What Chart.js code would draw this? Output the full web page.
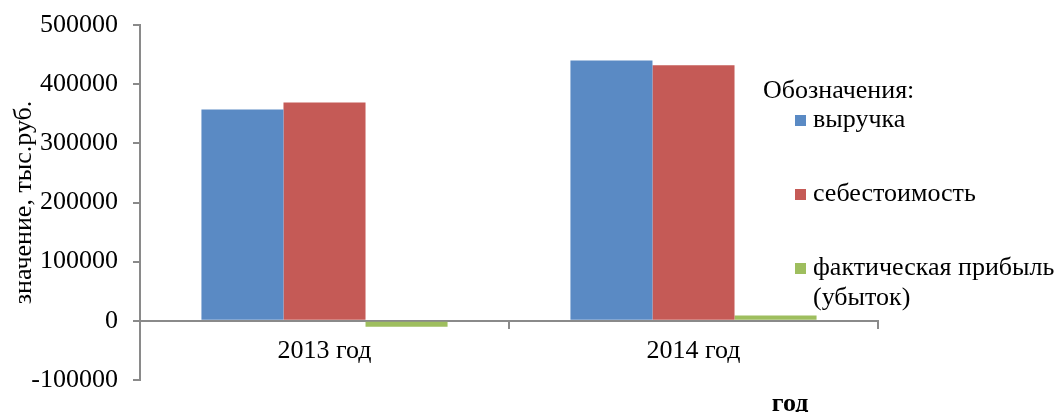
<!DOCTYPE html>
<html lang="ru">
<head>
<meta charset="utf-8">
<script src="https://cdn.jsdelivr.net/npm/chart.js@4/dist/chart.umd.min.js"></script>
<style>
  html, body { margin: 0; padding: 0; background: #ffffff; }
  #wrap { width: 1062px; height: 412px; }
</style>
</head>
<body>
<div id="wrap"><canvas id="chart" width="1062" height="412"></canvas></div>
<script>
// Годы
const categories = ['2013 год', '2014 год'];
// Показатели, тыс. руб.
const revenue = [357000, 440000];
const costs = [369000, 432000];
const profit = [-10000, 9000];
const seriesNames = ['выручка', 'себестоимость', 'фактическая прибыль\n(убыток)'];
const yTicks = [-100000, 0, 100000, 200000, 300000, 400000, 500000];

const FONT = 'Liberation Serif, Times New Roman, serif';
const AXIS = '#8a8a8a';
const SIZE = 26;

// Легенда и подпись оси X рисуются отдельно
const notes = {
  id: 'notes',
  afterDraw(chart) {
    const ctx = chart.ctx;
    ctx.save();
    ctx.fillStyle = '#000';
    ctx.font = SIZE + 'px ' + FONT;
    ctx.textBaseline = 'middle';
    ctx.textAlign = 'left';
    ctx.fillText('Обозначения:', 763, 91);
    const rows = [120, 194, 268];
    chart.data.datasets.forEach((ds, i) => {
      const y = rows[i];
      ctx.fillStyle = ds.backgroundColor;
      ctx.fillRect(795, y - 5, 11, 11);
      ctx.fillStyle = '#000';
      ds.label.split('\n').forEach((line, j) => {
        ctx.fillText(line, 813, y + j * 30);
      });
    });
    ctx.font = 'bold ' + SIZE + 'px ' + FONT;
    ctx.textAlign = 'center';
    ctx.fillText('год', 790, 404);
    ctx.restore();
  }
};

new Chart(document.getElementById('chart'), {
  type: 'bar',
  data: {
    labels: categories,
    datasets: [
      { label: seriesNames[0], data: revenue, backgroundColor: '#5a8ac4' },
      { label: seriesNames[1], data: costs, backgroundColor: '#c55a56' },
      { label: seriesNames[2], data: profit, backgroundColor: '#9ebe5e' }
    ]
  },
  options: {
    responsive: false,
    devicePixelRatio: 1,
    animation: false,
    layout: { padding: { left: 0, right: 184, top: 25, bottom: 32 } },
    datasets: { bar: { categoryPercentage: 0.667, barPercentage: 1.0 } },
    plugins: { legend: { display: false }, tooltip: { enabled: false } },
    scales: {
      x: {
        position: { y: 0 },
        offset: true,
        grid: { offset: true, drawOnChartArea: false, drawTicks: true, tickLength: 7, color: AXIS, lineWidth: 2 },
        border: { color: AXIS, width: 2 },
        ticks: { color: '#000', font: { family: FONT, size: SIZE }, padding: 8, maxRotation: 0 }
      },
      y: {
        min: -100000,
        max: 500000,
        afterFit(scale) {
          scale.width = 140;
          scale.paddingTop = 0;
          scale.paddingBottom = 0;
        },
        afterBuildTicks(scale) { scale.ticks = yTicks.map(v => ({ value: v })); },
        grid: { drawOnChartArea: false, drawTicks: true, tickLength: 7, color: AXIS, lineWidth: 2 },
        border: { color: AXIS, width: 2 },
        ticks: { color: '#000', font: { family: FONT, size: SIZE }, padding: 15, callback: v => String(v) },
        title: { display: true, text: 'значение, тыс.руб.', color: '#000', font: { family: FONT, size: SIZE }, padding: { top: 9, bottom: 0 } }
      }
    }
  },
  plugins: [notes]
});
</script>
</body>
</html>
